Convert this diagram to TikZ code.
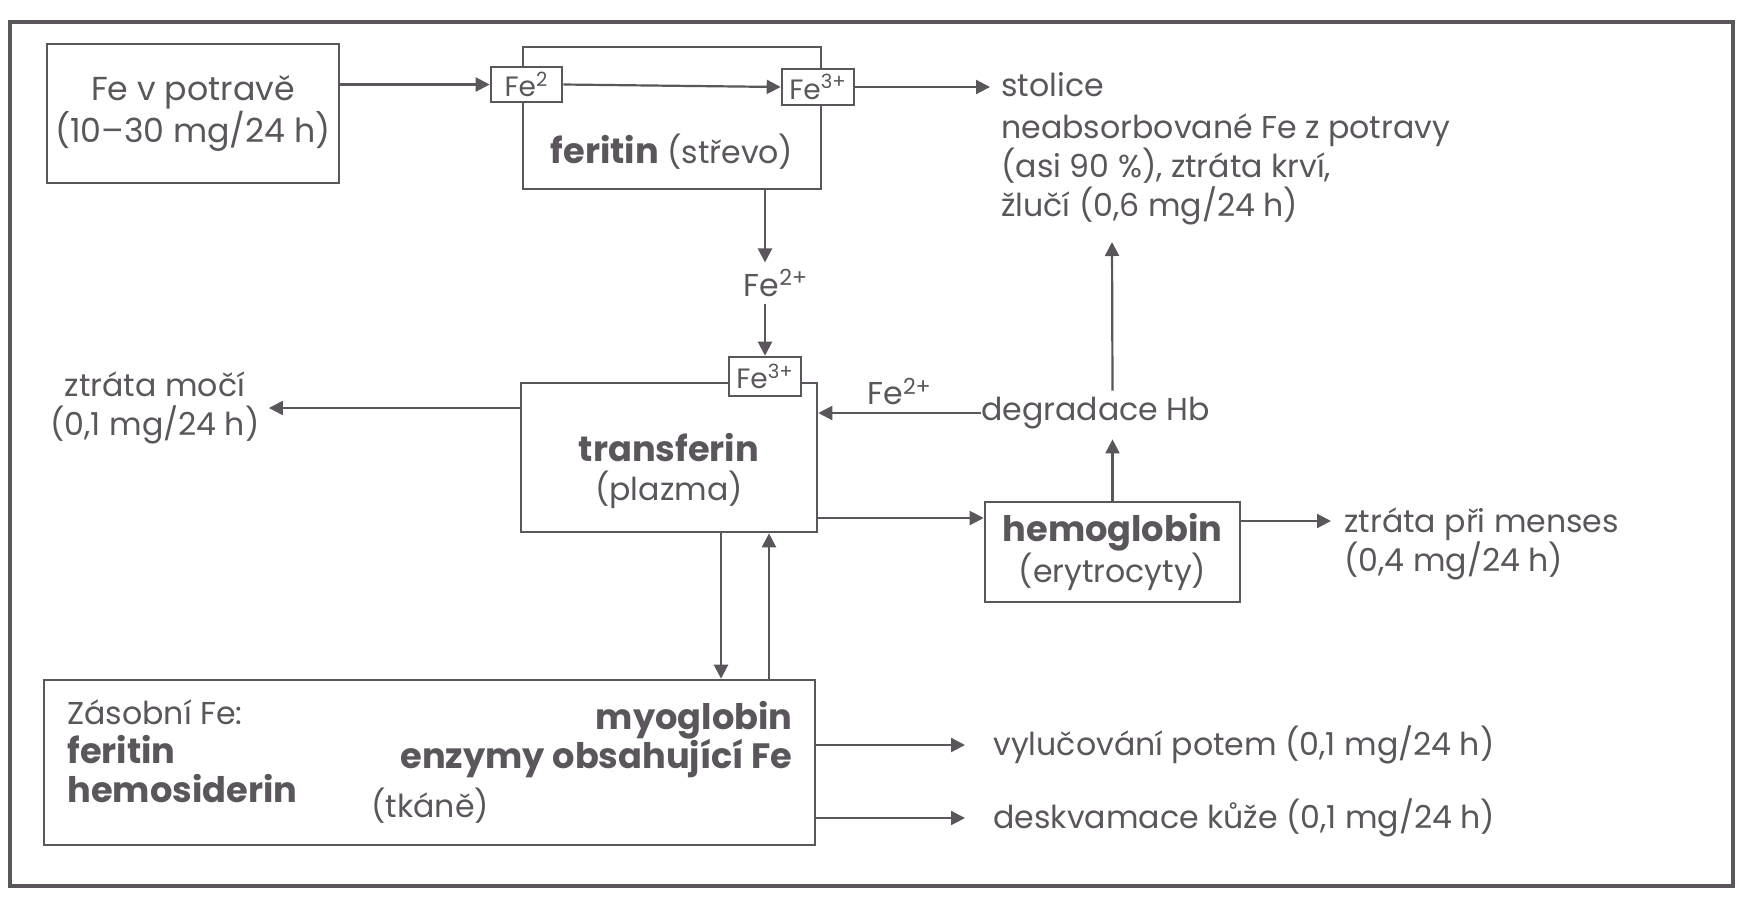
\documentclass[tikz,border=0pt]{standalone}
\usepackage{fontspec}
\setmainfont{Poppins}
\usetikzlibrary{arrows.meta,calc}
\definecolor{ink}{RGB}{90,86,92}
\newcommand\heavytext[1]{{\fontsize{17.6}{21}\selectfont\bfseries #1}}
\begin{document}
\begin{tikzpicture}[x=0.5pt,y=-0.5pt,
  every node/.style={text=ink, font=\fontsize{15.8}{19.5}\selectfont},
  box/.style={draw=ink, line width=1.3pt, fill=white, inner sep=0pt},
  small/.style={box, font=\fontsize{14}{16}\selectfont},
  arr/.style={draw=ink, line width=1.1pt, -{Triangle[length=7pt,width=7pt]}},
  txt/.style={inner sep=0pt}
]
\useasboundingbox (0,0) rectangle (1739,896);
\draw[ink, line width=2pt] (10,22) rectangle (1733,886);

% boxes
\node[box, minimum width=146pt, minimum height=69.5pt, align=center, font=\fontsize{16.6}{19.5}\selectfont] (pot) at (193,113.5) {Fe v potravě\\(10–30 mg/24 h)};
\node[box, minimum width=149pt, minimum height=71pt] (fer) at (672,118) {};
\node[small, minimum width=35.5pt, minimum height=17.5pt] (fe2) at (526.5,84.5) {Fe\textsuperscript{2}};
\node[small, minimum width=36pt, minimum height=18pt] (fe3a) at (818,87) {Fe\textsuperscript{3+}};
\node[txt] (fert) at (672,152) {\heavytext{feritin} (střevo)};

\node[box, minimum width=148pt, minimum height=74.5pt] (tra) at (669,457.5) {};
\node[small, minimum width=36pt, minimum height=19.5pt] (fe3b) at (765,376.5) {Fe\textsuperscript{3+}};
\node[txt, align=center] (trat) at (669,471) {\heavytext{transferin}\\(plazma)};

\node[box, minimum width=127.5pt, minimum height=50pt, align=center] (hem) at (1112.5,552) {\heavytext{hemoglobin}\\(erytrocyty)};

\node[box, minimum width=385.5pt, minimum height=82.5pt] (tis) at (429.5,762.5) {};
\node[txt, align=left, anchor=west] (zas) at (67,751) {Zásobní Fe:\\\heavytext{feritin}\\\heavytext{hemosiderin}};
\node[txt, align=right, anchor=east] (myo) at (793,740) {\heavytext{myoglobin}\\\heavytext{enzymy obsahující Fe}};
\node[txt, anchor=west] (tk) at (371,806) {(tkáně)};

% outside labels
\node[txt, anchor=west] (sto) at (1001,85) {stolice};
\node[txt, anchor=west, align=left] (neab) at (1001,169) {neabsorbované Fe z potravy\\(asi 90~\%), ztráta krví,\\žlučí (0,6 mg/24 h)};
\node[txt, align=center] (moc) at (155,408) {ztráta močí\\(0,1 mg/24 h)};
\node[txt, anchor=west] (deg) at (981,413) {degradace Hb};
\node[txt, anchor=west, align=left] (men) at (1344,544) {ztráta při menses\\(0,4 mg/24 h)};
\node[txt, anchor=west] (vyl) at (993,745) {vylučování potem (0,1 mg/24 h)};
\node[txt, anchor=west] (des) at (993,818) {deskvamace kůže (0,1 mg/24 h)};
\node (fe2p) at (776,283) {Fe\textsuperscript{2+}};

\coordinate (xd) at (721,0);
\coordinate (xu) at (769,0);
\coordinate (up) at (1112,242);

% connectors
\draw[arr] (pot.east |- fe2.west) -- (fe2.west);
\draw[arr] (fe2.east) -- (fe3a.west);
\draw[arr] (fe3a.east) -- ($(fe3a.east -| sto.west)+(-11,0)$);
\draw[arr] (fer.south -| fe3b.north) -- (fe2p.north -| fe3b.north);
\draw[arr] (fe2p.south -| fe3b.north) -- (fe3b.north);
\draw[arr] (tra.west |- moc.east) -- ($(moc.east)+(9,0)$);
\draw[arr] (deg.west) -- (deg.west -| tra.east) node[midway, above] {Fe\textsuperscript{2+}};
\draw[arr] (hem.north) -- ($(deg.south -| hem.north)+(0,10)$);
\draw[arr] ($(deg.north -| hem.north)+(0,-6)$) -- (up);
\draw[arr] ($(hem.west -| tra.east)+(0,-34)$) -- ($(hem.west)+(0,-34)$);
\draw[arr] ($(hem.east)+(0,-31)$) -- ($(hem.east -| men.west)+(-13,-31)$);
\draw[arr] (tra.south -| xd) -- (tis.north -| xd);
\draw[arr] (tis.north -| xu) -- (tra.south -| xu);
\draw[arr] (tis.east |- vyl.west) -- ($(vyl.west)+(-28,0)$);
\draw[arr] (tis.east |- des.west) -- ($(des.west)+(-28,0)$);
\end{tikzpicture}
\end{document}
